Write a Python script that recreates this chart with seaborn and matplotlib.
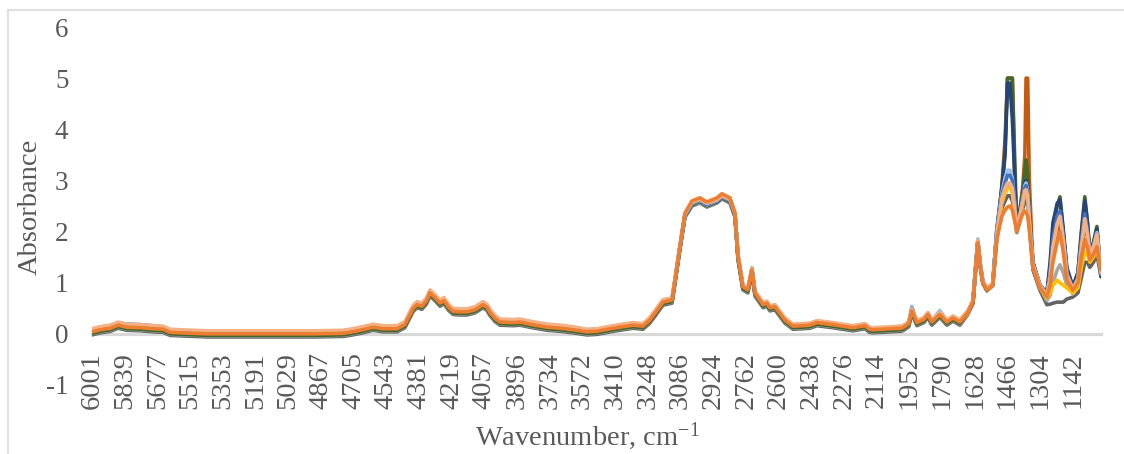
import matplotlib
matplotlib.use("Agg")
import matplotlib.pyplot as plt
from matplotlib.lines import Line2D
import pandas as pd
import seaborn as sns

# Wavenumber grid (cm-1), descending
WN = [
    6001, 5960, 5910, 5872, 5830, 5760, 5700, 5649, 5615, 5560,
    5431, 5300, 5100, 4900, 4760, 4723, 4660, 4609, 4560, 4490,
    4451, 4410, 4391, 4367, 4345, 4327, 4300, 4277, 4258, 4235,
    4213, 4180, 4144, 4104, 4064, 4045, 4030, 4005, 3980, 3916,
    3881, 3820, 3747, 3680, 3619, 3549, 3500, 3420, 3370, 3321,
    3272, 3240, 3213, 3173, 3128, 3113, 3089, 3064, 3029, 2990,
    2955, 2905, 2881, 2841, 2816, 2801, 2777, 2752, 2732, 2717,
    2677, 2658, 2643, 2618, 2569, 2529, 2445, 2410, 2331, 2232,
    2172, 2150, 2133, 1999, 1984, 1955, 1940, 1915, 1880, 1860,
    1841, 1801, 1766, 1736, 1702, 1662, 1637, 1625, 1613, 1600,
    1588, 1568, 1539, 1519, 1494, 1478, 1466, 1454, 1442, 1430,
    1420, 1405, 1390, 1380, 1374, 1366, 1358, 1340, 1305, 1271,
    1255, 1241, 1220, 1206, 1190, 1172, 1142, 1117, 1100, 1083,
    1070, 1058, 1040, 1023, 1003,
]

# Absorbance spectra, one list per sample
dark_gray = [
    -0.02, 0.02, 0.05, 0.11, 0.07, 0.06, 0.04, 0.03, -0.03, -0.04,
    -0.06, -0.06, -0.06, -0.06, -0.05, -0.03, 0.02, 0.07, 0.04, 0.04,
    0.12, 0.44, 0.51, 0.48, 0.58, 0.74, 0.64, 0.54, 0.59, 0.46,
    0.38, 0.37, 0.37, 0.41, 0.51, 0.46, 0.36, 0.24, 0.17, 0.16,
    0.17, 0.12, 0.07, 0.05, 0.02, -0.02, -0.01, 0.05, 0.08, 0.11,
    0.09, 0.20, 0.34, 0.56, 0.60, 0.99, 1.64, 2.28, 2.50, 2.56,
    2.48, 2.56, 2.64, 2.56, 2.28, 1.45, 0.86, 0.80, 1.19, 0.74,
    0.51, 0.54, 0.45, 0.47, 0.21, 0.09, 0.11, 0.16, 0.12, 0.06,
    0.10, 0.03, 0.02, 0.05, 0.06, 0.14, 0.40, 0.16, 0.22, 0.32,
    0.17, 0.32, 0.17, 0.25, 0.17, 0.38, 0.60, 1.22, 1.78, 1.28,
    0.98, 0.84, 0.94, 1.85, 2.45, 2.60, 2.70, 2.70, 2.60, 2.30,
    1.98, 2.20, 2.45, 2.60, 2.62, 2.50, 2.10, 1.25, 0.85, 0.57,
    0.58, 0.60, 0.62, 0.62, 0.62, 0.68, 0.72, 0.80, 1.10, 1.40,
    1.40, 1.30, 1.40, 1.55, 1.12,
]
gray = [
    0.00, 0.04, 0.07, 0.13, 0.09, 0.08, 0.06, 0.05, -0.01, -0.02,
    -0.04, -0.04, -0.04, -0.04, -0.03, -0.01, 0.04, 0.09, 0.06, 0.06,
    0.14, 0.46, 0.53, 0.50, 0.60, 0.76, 0.66, 0.56, 0.61, 0.48,
    0.40, 0.39, 0.39, 0.43, 0.53, 0.48, 0.38, 0.26, 0.19, 0.18,
    0.19, 0.14, 0.09, 0.07, 0.04, 0.00, 0.01, 0.07, 0.10, 0.13,
    0.11, 0.22, 0.36, 0.58, 0.62, 1.01, 1.66, 2.29, 2.52, 2.57,
    2.49, 2.57, 2.65, 2.58, 2.30, 1.47, 0.88, 0.82, 1.21, 0.76,
    0.53, 0.56, 0.47, 0.49, 0.23, 0.11, 0.13, 0.18, 0.14, 0.08,
    0.12, 0.05, 0.04, 0.07, 0.08, 0.16, 0.41, 0.18, 0.24, 0.34,
    0.19, 0.34, 0.19, 0.27, 0.19, 0.40, 0.62, 1.24, 1.80, 1.30,
    1.00, 0.85, 0.96, 1.92, 2.60, 2.80, 2.90, 2.90, 2.80, 2.40,
    2.00, 2.25, 2.55, 2.75, 2.78, 2.65, 2.20, 1.30, 0.90, 0.65,
    0.75, 1.00, 1.25, 1.35, 1.20, 0.95, 0.78, 0.90, 1.40, 1.85,
    1.70, 1.45, 1.55, 1.75, 1.15,
]
gold = [
    0.03, 0.07, 0.10, 0.16, 0.12, 0.11, 0.09, 0.08, 0.02, 0.01,
    -0.01, -0.01, -0.01, -0.01, 0.00, 0.02, 0.07, 0.12, 0.09, 0.09,
    0.17, 0.49, 0.56, 0.53, 0.63, 0.79, 0.69, 0.59, 0.64, 0.50,
    0.42, 0.41, 0.41, 0.46, 0.56, 0.51, 0.41, 0.29, 0.22, 0.21,
    0.22, 0.17, 0.12, 0.10, 0.07, 0.03, 0.04, 0.10, 0.13, 0.16,
    0.14, 0.25, 0.39, 0.60, 0.64, 1.03, 1.68, 2.33, 2.57, 2.63,
    2.55, 2.63, 2.71, 2.63, 2.34, 1.49, 0.91, 0.85, 1.24, 0.79,
    0.56, 0.59, 0.50, 0.52, 0.26, 0.14, 0.16, 0.21, 0.17, 0.11,
    0.15, 0.08, 0.07, 0.10, 0.11, 0.19, 0.44, 0.21, 0.27, 0.37,
    0.22, 0.37, 0.22, 0.30, 0.22, 0.40, 0.66, 1.22, 1.80, 1.30,
    1.00, 0.85, 0.95, 1.90, 2.55, 2.75, 2.85, 2.85, 2.75, 2.35,
    2.00, 2.25, 2.55, 2.75, 2.78, 2.65, 2.20, 1.32, 0.90, 0.70,
    0.80, 0.95, 1.05, 1.00, 0.95, 0.90, 0.80, 0.90, 1.30, 1.60,
    1.55, 1.40, 1.50, 1.65, 1.22,
]
dark_orange = [
    0.03, 0.07, 0.10, 0.16, 0.12, 0.11, 0.09, 0.08, 0.02, 0.01,
    -0.01, -0.01, -0.01, -0.01, 0.00, 0.02, 0.07, 0.12, 0.09, 0.09,
    0.17, 0.49, 0.56, 0.53, 0.63, 0.79, 0.69, 0.59, 0.64, 0.51,
    0.43, 0.42, 0.42, 0.46, 0.56, 0.51, 0.41, 0.29, 0.22, 0.21,
    0.22, 0.17, 0.12, 0.10, 0.07, 0.03, 0.04, 0.10, 0.13, 0.16,
    0.14, 0.25, 0.39, 0.61, 0.65, 1.04, 1.69, 2.34, 2.58, 2.64,
    2.56, 2.64, 2.72, 2.64, 2.35, 1.49, 0.91, 0.85, 1.24, 0.79,
    0.56, 0.59, 0.50, 0.52, 0.26, 0.14, 0.16, 0.21, 0.17, 0.11,
    0.15, 0.08, 0.07, 0.10, 0.11, 0.19, 0.44, 0.21, 0.27, 0.37,
    0.22, 0.37, 0.22, 0.30, 0.22, 0.43, 0.63, 1.22, 1.80, 1.31,
    1.01, 0.87, 0.97, 1.95, 2.90, 3.80, 5.00, 5.00, 5.00, 3.00,
    2.02, 2.40, 2.90, 3.50, 5.00, 5.00, 3.00, 1.35, 0.92, 0.75,
    1.10, 1.60, 2.00, 2.20, 1.80, 1.15, 0.88, 1.10, 1.70, 2.10,
    1.90, 1.50, 1.60, 1.85, 1.20,
]
dark_green = [
    0.01, 0.05, 0.08, 0.14, 0.10, 0.09, 0.07, 0.06, 0.00, -0.01,
    -0.03, -0.03, -0.03, -0.03, -0.02, 0.00, 0.05, 0.10, 0.07, 0.07,
    0.15, 0.47, 0.54, 0.51, 0.61, 0.77, 0.67, 0.57, 0.62, 0.49,
    0.41, 0.40, 0.40, 0.44, 0.54, 0.49, 0.39, 0.27, 0.20, 0.19,
    0.20, 0.15, 0.10, 0.08, 0.05, 0.01, 0.02, 0.08, 0.11, 0.14,
    0.12, 0.23, 0.37, 0.59, 0.63, 1.02, 1.67, 2.30, 2.53, 2.59,
    2.50, 2.58, 2.66, 2.59, 2.31, 1.48, 0.89, 0.83, 1.22, 0.77,
    0.54, 0.57, 0.48, 0.50, 0.24, 0.12, 0.14, 0.19, 0.15, 0.09,
    0.13, 0.06, 0.05, 0.08, 0.09, 0.17, 0.42, 0.19, 0.25, 0.35,
    0.20, 0.35, 0.20, 0.28, 0.20, 0.44, 0.64, 1.25, 1.82, 1.32,
    1.02, 0.86, 0.98, 2.00, 2.80, 3.60, 5.00, 5.00, 5.00, 3.40,
    2.05, 2.40, 2.80, 3.20, 3.40, 3.10, 2.40, 1.40, 0.95, 0.78,
    1.30, 2.00, 2.50, 2.68, 2.00, 1.25, 0.90, 1.20, 2.00, 2.68,
    2.20, 1.60, 1.80, 2.10, 1.15,
]
dark_blue = [
    0.05, 0.09, 0.12, 0.18, 0.14, 0.13, 0.11, 0.10, 0.04, 0.03,
    0.01, 0.01, 0.01, 0.01, 0.02, 0.04, 0.09, 0.14, 0.11, 0.11,
    0.19, 0.51, 0.58, 0.55, 0.65, 0.81, 0.71, 0.61, 0.66, 0.53,
    0.45, 0.44, 0.44, 0.48, 0.58, 0.53, 0.43, 0.31, 0.24, 0.23,
    0.24, 0.19, 0.14, 0.12, 0.09, 0.05, 0.06, 0.12, 0.15, 0.18,
    0.16, 0.27, 0.41, 0.63, 0.67, 1.05, 1.69, 2.31, 2.54, 2.60,
    2.51, 2.59, 2.67, 2.60, 2.32, 1.52, 0.93, 0.87, 1.26, 0.81,
    0.58, 0.61, 0.52, 0.54, 0.28, 0.16, 0.18, 0.23, 0.19, 0.13,
    0.17, 0.10, 0.09, 0.12, 0.13, 0.21, 0.46, 0.23, 0.29, 0.39,
    0.24, 0.39, 0.24, 0.32, 0.24, 0.43, 0.60, 1.22, 1.79, 1.31,
    1.01, 0.86, 0.97, 2.05, 2.85, 3.50, 4.90, 4.90, 4.20, 3.00,
    2.05, 2.35, 2.70, 2.95, 3.00, 2.85, 2.30, 1.40, 0.95, 0.80,
    1.40, 2.17, 2.55, 2.62, 2.05, 1.30, 0.92, 1.20, 1.95, 2.60,
    2.15, 1.60, 1.75, 2.05, 1.12,
]
light_blue = [
    0.08, 0.12, 0.15, 0.21, 0.17, 0.16, 0.14, 0.13, 0.07, 0.06,
    0.04, 0.04, 0.04, 0.04, 0.05, 0.07, 0.12, 0.17, 0.14, 0.14,
    0.22, 0.54, 0.61, 0.58, 0.68, 0.84, 0.74, 0.64, 0.69, 0.56,
    0.48, 0.47, 0.47, 0.51, 0.61, 0.56, 0.46, 0.34, 0.27, 0.26,
    0.27, 0.22, 0.17, 0.15, 0.12, 0.08, 0.09, 0.15, 0.18, 0.21,
    0.19, 0.30, 0.44, 0.66, 0.69, 1.07, 1.71, 2.32, 2.55, 2.61,
    2.52, 2.60, 2.68, 2.61, 2.33, 1.54, 0.95, 0.89, 1.30, 0.83,
    0.60, 0.63, 0.54, 0.56, 0.30, 0.18, 0.20, 0.25, 0.21, 0.15,
    0.19, 0.12, 0.11, 0.14, 0.15, 0.23, 0.54, 0.25, 0.31, 0.41,
    0.26, 0.46, 0.26, 0.34, 0.26, 0.45, 0.65, 1.26, 1.86, 1.35,
    1.03, 0.89, 0.99, 2.02, 2.75, 3.05, 3.20, 3.20, 3.05, 2.55,
    2.03, 2.30, 2.65, 2.90, 2.95, 2.80, 2.25, 1.36, 0.94, 0.77,
    1.15, 1.75, 2.20, 2.35, 1.88, 1.18, 0.88, 1.08, 1.75, 2.30,
    1.98, 1.55, 1.72, 1.98, 1.17,
]
blue = [
    0.09, 0.13, 0.16, 0.22, 0.19, 0.18, 0.16, 0.14, 0.07, 0.05,
    0.03, 0.03, 0.03, 0.03, 0.04, 0.06, 0.11, 0.16, 0.13, 0.13,
    0.21, 0.53, 0.60, 0.57, 0.67, 0.83, 0.73, 0.63, 0.68, 0.55,
    0.47, 0.46, 0.46, 0.50, 0.60, 0.55, 0.45, 0.33, 0.26, 0.25,
    0.26, 0.21, 0.16, 0.14, 0.11, 0.07, 0.09, 0.14, 0.17, 0.20,
    0.18, 0.29, 0.43, 0.64, 0.68, 1.06, 1.70, 2.33, 2.56, 2.62,
    2.53, 2.61, 2.69, 2.62, 2.34, 1.53, 0.94, 0.88, 1.27, 0.82,
    0.59, 0.62, 0.53, 0.55, 0.29, 0.17, 0.19, 0.24, 0.20, 0.14,
    0.19, 0.11, 0.10, 0.13, 0.14, 0.22, 0.50, 0.24, 0.30, 0.40,
    0.25, 0.41, 0.25, 0.33, 0.25, 0.44, 0.64, 1.24, 1.81, 1.33,
    1.02, 0.88, 0.98, 2.00, 2.70, 2.95, 3.10, 3.10, 3.00, 2.50,
    2.02, 2.30, 2.60, 2.85, 2.90, 2.75, 2.25, 1.35, 0.93, 0.76,
    1.20, 1.85, 2.30, 2.40, 1.90, 1.20, 0.88, 1.10, 1.80, 2.35,
    2.00, 1.55, 1.70, 1.95, 1.18,
]
peach = [
    0.10, 0.14, 0.17, 0.23, 0.19, 0.18, 0.16, 0.15, 0.09, 0.08,
    0.06, 0.06, 0.06, 0.06, 0.07, 0.09, 0.14, 0.19, 0.16, 0.16,
    0.24, 0.56, 0.63, 0.60, 0.70, 0.86, 0.76, 0.66, 0.71, 0.58,
    0.50, 0.49, 0.49, 0.53, 0.63, 0.58, 0.48, 0.36, 0.29, 0.28,
    0.29, 0.24, 0.19, 0.17, 0.14, 0.09, 0.10, 0.16, 0.19, 0.22,
    0.20, 0.31, 0.45, 0.67, 0.70, 1.08, 1.72, 2.34, 2.57, 2.63,
    2.55, 2.62, 2.70, 2.63, 2.36, 1.55, 0.96, 0.90, 1.28, 0.84,
    0.61, 0.64, 0.55, 0.57, 0.31, 0.19, 0.21, 0.26, 0.22, 0.16,
    0.20, 0.13, 0.12, 0.15, 0.16, 0.24, 0.49, 0.26, 0.32, 0.42,
    0.27, 0.42, 0.27, 0.35, 0.27, 0.46, 0.66, 1.25, 1.82, 1.34,
    1.04, 0.90, 0.99, 1.95, 2.65, 2.85, 2.95, 2.95, 2.85, 2.45,
    2.02, 2.30, 2.60, 2.80, 2.82, 2.70, 2.25, 1.36, 0.94, 0.76,
    1.10, 1.70, 2.15, 2.30, 1.85, 1.15, 0.87, 1.08, 1.70, 2.25,
    1.95, 1.55, 1.70, 1.95, 1.20,
]
orange = [
    0.04, 0.08, 0.11, 0.17, 0.13, 0.12, 0.10, 0.09, 0.03, 0.02,
    0.00, 0.00, 0.00, 0.00, 0.01, 0.03, 0.08, 0.13, 0.10, 0.10,
    0.18, 0.50, 0.57, 0.54, 0.64, 0.80, 0.70, 0.60, 0.65, 0.52,
    0.44, 0.43, 0.43, 0.47, 0.57, 0.52, 0.42, 0.30, 0.23, 0.22,
    0.23, 0.18, 0.13, 0.11, 0.08, 0.04, 0.05, 0.11, 0.14, 0.17,
    0.15, 0.26, 0.40, 0.62, 0.66, 1.05, 1.70, 2.36, 2.60, 2.66,
    2.58, 2.66, 2.74, 2.66, 2.36, 1.50, 0.92, 0.86, 1.25, 0.80,
    0.57, 0.60, 0.51, 0.53, 0.27, 0.15, 0.17, 0.22, 0.18, 0.12,
    0.16, 0.09, 0.08, 0.11, 0.12, 0.20, 0.45, 0.22, 0.28, 0.38,
    0.23, 0.38, 0.23, 0.31, 0.23, 0.42, 0.62, 1.20, 1.78, 1.30,
    1.00, 0.86, 0.95, 1.85, 2.30, 2.42, 2.48, 2.50, 2.42, 2.20,
    2.00, 2.20, 2.35, 2.40, 2.38, 2.30, 2.05, 1.30, 0.90, 0.72,
    0.95, 1.40, 1.80, 2.00, 1.60, 1.05, 0.85, 1.00, 1.50, 1.84,
    1.70, 1.45, 1.55, 1.70, 1.25,
]

SAMPLES = ["S1", "S2", "S3", "S4", "S5", "S6", "S7", "S8", "S9", "S10"]
SPECTRA = [dark_gray, gray, gold, dark_orange, dark_green,
           dark_blue, light_blue, blue, peach, orange]
COLORS = ["#636363", "#A5A5A5", "#FFC000", "#C55A11", "#43682B",
          "#264478", "#9DC3E6", "#4472C4", "#F4B183", "#ED7D31"]

TICK_LABELS = [6001, 5839, 5677, 5515, 5353, 5191, 5029, 4867, 4705, 4543,
               4381, 4219, 4057, 3896, 3734, 3572, 3410, 3248, 3086, 2924,
               2762, 2600, 2438, 2276, 2114, 1952, 1790, 1628, 1466, 1304,
               1142]
Y_TICKS = [-1, 0, 1, 2, 3, 4, 5, 6]

for s in SPECTRA:
    assert len(s) == len(WN)

frames = []
for name, vals in zip(SAMPLES, SPECTRA):
    frames.append(pd.DataFrame({"Wavenumber": WN, "Absorbance": vals,
                                "Sample": name}))
df = pd.concat(frames, ignore_index=True)

sns.set_theme(style="white")
plt.rcParams["font.family"] = ["Liberation Serif", "DejaVu Serif"]
plt.rcParams["mathtext.fontset"] = "custom"
plt.rcParams["mathtext.rm"] = "Liberation Serif"
plt.rcParams["mathtext.it"] = "Liberation Serif:italic"
plt.rcParams["axes.unicode_minus"] = False

TEXT = "#595959"
AXIS = "#D9D9D9"

fig = plt.figure(figsize=(11.24, 4.54), dpi=100)
ax = fig.add_axes([0.0819, 0.152, 0.8976, 0.7885])

sns.lineplot(data=df, x="Wavenumber", y="Absorbance", hue="Sample",
             hue_order=SAMPLES, palette=COLORS, sort=False, estimator=None,
             linewidth=2.6, legend=False, ax=ax)

ax.set_xlim(6001, 1003)
ax.set_ylim(-1, 6)
ax.set_yticks(Y_TICKS)
ax.set_yticklabels([str(t) for t in Y_TICKS])
ax.set_xticks(TICK_LABELS)
ax.set_xticklabels([str(t) for t in TICK_LABELS])

for side in ["top", "right", "left"]:
    ax.spines[side].set_visible(False)
ax.spines["bottom"].set_position(("data", 0))
ax.spines["bottom"].set_color(AXIS)
ax.spines["bottom"].set_linewidth(2.25)
ax.spines["bottom"].set_zorder(0.5)

ax.tick_params(axis="x", length=0, pad=13, labelsize=20.5, colors=TEXT,
               labelrotation=90)
ax.tick_params(axis="y", length=0, pad=17, labelsize=19.5, colors=TEXT)
for lab in ax.get_xticklabels():
    lab.set_ha("center")
    lab.set_va("top")

ax.set_xlabel(r"Wavenumber, cm$^{\mathrm{-1}}$", fontsize=20.5, color=TEXT)
ax.set_ylabel("Absorbance", fontsize=20.5, color=TEXT)
ax.xaxis.set_label_coords(0.4906, -0.1425)
ax.xaxis.label.set_va("center")
ax.yaxis.set_label_coords(-0.0614, 0.497)
ax.yaxis.label.set_va("center")

# chart-area frame
fig.add_artist(Line2D([8 / 1124, 1.0], [1 - 10 / 454, 1 - 10 / 454],
                      transform=fig.transFigure, color=AXIS, lw=1.2))
fig.add_artist(Line2D([8 / 1124, 8 / 1124], [0.0, 1 - 10 / 454],
                      transform=fig.transFigure, color=AXIS, lw=1.2))

fig.savefig("out.png", dpi=100, facecolor="white")
